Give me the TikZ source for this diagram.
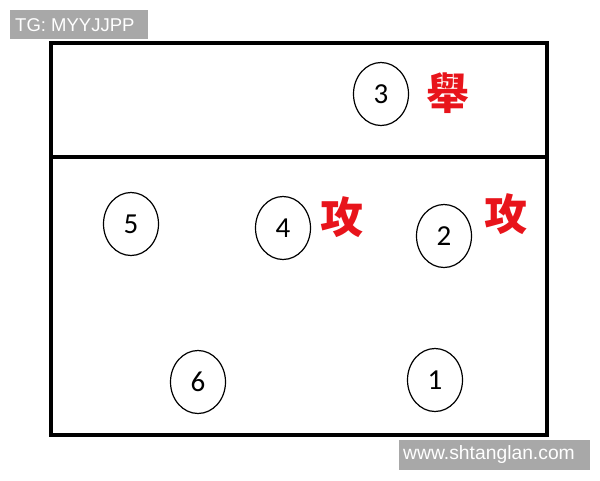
\documentclass[tikz,border=0pt]{standalone}
\usepackage{fontspec}
\usepackage{xcolor}
\usetikzlibrary{shapes.geometric, positioning}
\setmainfont{Carlito}
\newfontfamily\cjk{Noto Sans CJK TC}[BoldFont={Noto Sans CJK TC Black}]
\newfontfamily\markfont{Liberation Sans}
\definecolor{markgray}{HTML}{A8A8A8}
\definecolor{callred}{HTML}{E8141B}

\begin{document}
\begin{tikzpicture}[
        x=1pt, y=-1pt,
        player/.style={ellipse, draw, line width=1.2pt, minimum width=55pt, minimum height=63pt, inner sep=0pt, font=\fontsize{29}{29}\selectfont},
        call/.style={text=callred, font=\cjk\bfseries\fontsize{43}{43}\selectfont, inner sep=0pt},
        tagbox/.style={text=white, font=\markfont\fontsize{18.5}{18.5}\selectfont, inner sep=0pt, anchor=west}
    ]
        \useasboundingbox (0,0) rectangle (600,480);

        % court and attack line
        \draw[line width=4.5pt] (51,43) rectangle (547,435);
        \draw[line width=3.5pt] (51,157) -- (547,157);

        % players
        \node[player] (p3) at (381,94) {3};
        \node[player] (p5) at (131,224) {5};
        \node[player] (p4) at (283,228) {4};
        \node[player] (p2) at (444,236) {2};
        \node[player] (p6) at (198,382) {6};
        \node[player] (p1) at (435,380) {1};

        % calls
        \node[call] (set) at (448,93) {舉};
        \node[call] (hit4) at (342,217) {攻};
        \node[call] (hit2) at (506,214) {攻};

        % watermarks
        \fill[markgray] (10,10) rectangle (148,39);
        \node[tagbox] (tg) at (15,25) {TG: MYYJJPP};
        \fill[markgray] (399,440) rectangle (590,470);
        \node[tagbox, font=\markfont\fontsize{19.3}{19.3}\selectfont] (site) at (403,455) {www.shtanglan.com};
    \end{tikzpicture}
\end{document}
